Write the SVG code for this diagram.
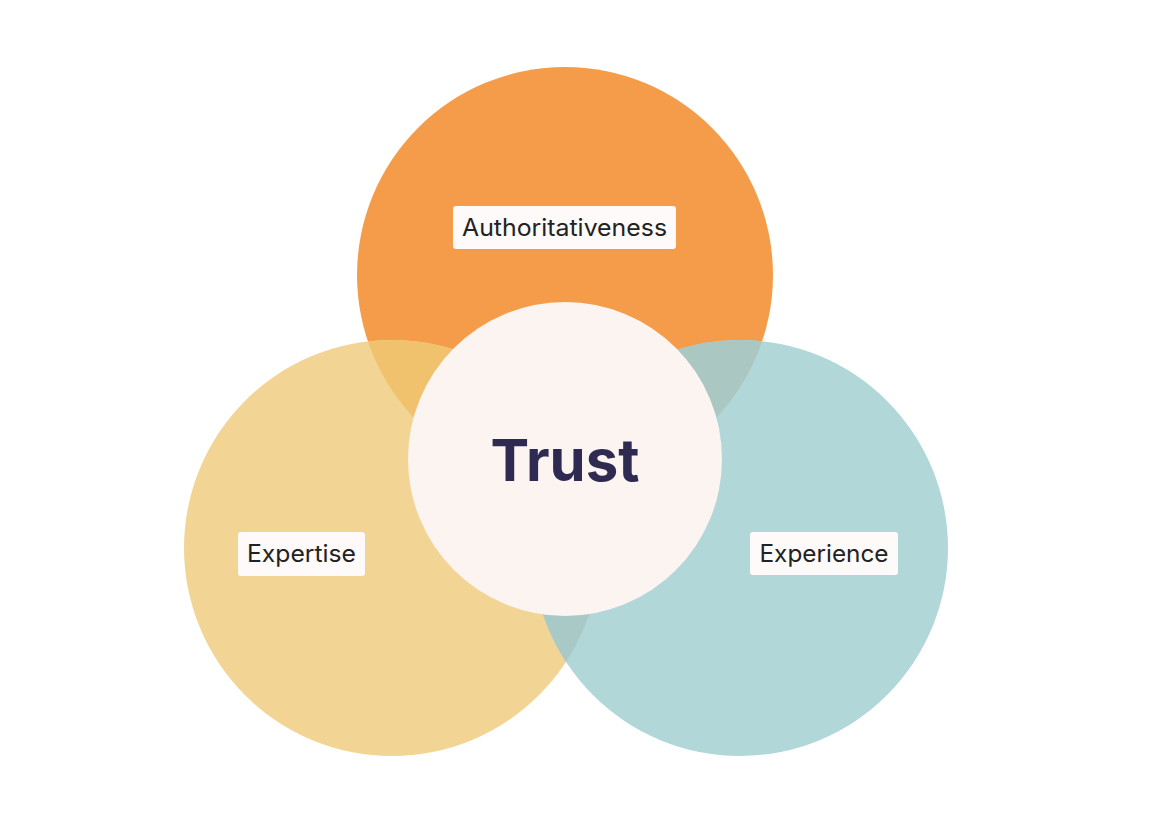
<svg xmlns="http://www.w3.org/2000/svg" width="1154" height="826" viewBox="0 0 1154 826">
  <style>
    .lbl { font-family: Inter, "Liberation Sans", sans-serif; font-size: 24px; fill: #222222; text-anchor: middle; }
    .box { fill: #FDFAF9; }
    .trust { font-family: Inter, "Liberation Sans", sans-serif; font-size: 58px; font-weight: bold; fill: #2F2A52; text-anchor: middle; }
  </style>
  <defs>
    <clipPath id="cOrange"><circle cx="565" cy="275" r="208"/></clipPath>
    <clipPath id="cYellow"><circle cx="392" cy="548" r="208"/></clipPath>
  </defs>
  <rect width="1154" height="826" fill="#FFFFFF"/>
  <g id="authoritativeness">
    <circle cx="565" cy="275" r="208" fill="#F59C4A"/>
  </g>
  <g id="expertise">
    <circle cx="392" cy="548" r="208" fill="#F2D595"/>
    <circle cx="392" cy="548" r="208" fill="#F0C26E" clip-path="url(#cOrange)"/>
  </g>
  <g id="experience">
    <circle cx="740" cy="548" r="208" fill="#B2D7D8"/>
    <circle cx="740" cy="548" r="208" fill="#ABC7C2" clip-path="url(#cOrange)"/>
    <circle cx="740" cy="548" r="208" fill="#A9C9C6" clip-path="url(#cYellow)"/>
  </g>
  <g id="trust">
    <circle cx="565" cy="459" r="157" fill="#FBF4F1"/>
    <text class="trust" x="565" y="481">Trust</text>
  </g>
  <g id="label-authoritativeness">
    <rect class="box" x="453" y="206" width="223" height="43" rx="3"/>
    <text class="lbl" x="564.5" y="236" textLength="205" lengthAdjust="spacingAndGlyphs">Authoritativeness</text>
  </g>
  <g id="label-expertise">
    <rect class="box" x="238" y="532" width="127" height="44" rx="3"/>
    <text class="lbl" x="301.5" y="562" textLength="109" lengthAdjust="spacingAndGlyphs">Expertise</text>
  </g>
  <g id="label-experience">
    <rect class="box" x="750" y="532" width="148" height="43" rx="3"/>
    <text class="lbl" x="824" y="562" textLength="129" lengthAdjust="spacingAndGlyphs">Experience</text>
  </g>
  <g id="connectors"/>
</svg>
